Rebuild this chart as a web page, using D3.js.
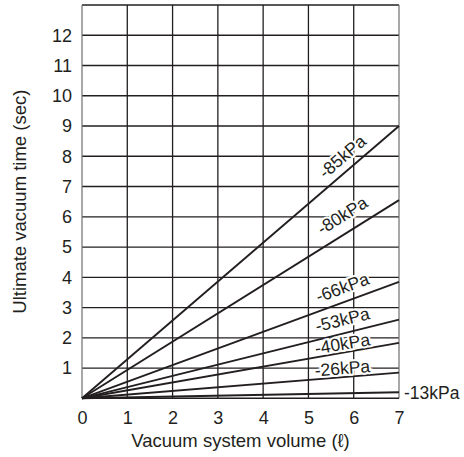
<!DOCTYPE html>
<html>
<head>
<meta charset="utf-8">
<script src="https://cdn.jsdelivr.net/npm/d3@7"></script>
<style>
  html, body { margin: 0; padding: 0; background: #fff; }
  svg { display: block; }
  text { font-family: "Liberation Sans", Arial, sans-serif; fill: #231f20; }
</style>
</head>
<body>
<script>
// ---- data ----
const xTicks = [0, 1, 2, 3, 4, 5, 6, 7];
const yTicks = [1, 2, 3, 4, 5, 6, 7, 8, 9, 10, 11, 12];
const volumes = [0, 7];
const pressureLabels = ["-85kPa", "-80kPa", "-66kPa", "-53kPa", "-40kPa", "-26kPa", "-13kPa"];
const s85 = [0, 9.0];
const s80 = [0, 6.55];
const s66 = [0, 3.85];
const s53 = [0, 2.6];
const s40 = [0, 1.83];
const s26 = [0, 0.85];
const s13 = [0, 0.2];
const seriesValues = [s85, s80, s66, s53, s40, s26, s13];
const xTitle = "Vacuum system volume (\u2113)";
const yTitle = "Ultimate vacuum time (sec)";

// ---- layout ----
const W = 464, H = 457;
const mLeft = 82, mRight = 399, mTop = 5, mBottom = 398.3;
const ink = "#231f20";

const x = d3.scaleLinear().domain([0, 7]).range([mLeft, mRight]);
const y = d3.scaleLinear().domain([0, 13]).range([mBottom, mTop]);

const svg = d3.select("body").append("svg").attr("width", W).attr("height", H);

// grid
const g = svg.append("g");
g.selectAll("line.h").data(yTicks.concat([13])).join("line").attr("class", "h")
  .attr("x1", mLeft).attr("x2", mRight)
  .attr("y1", d => y(d)).attr("y2", d => y(d))
  .attr("stroke", ink).attr("stroke-width", 1.3);
g.selectAll("line.v").data(xTicks.slice(1, 7)).join("line").attr("class", "v")
  .attr("x1", d => x(d)).attr("x2", d => x(d))
  .attr("y1", mTop).attr("y2", mBottom)
  .attr("stroke", ink).attr("stroke-width", 1.3);
// left / right borders (grey)
g.append("line").attr("x1", mLeft).attr("x2", mLeft).attr("y1", mTop).attr("y2", mBottom)
  .attr("stroke", "#6d6e71").attr("stroke-width", 1.2);
g.append("line").attr("x1", mRight).attr("x2", mRight).attr("y1", mTop).attr("y2", mBottom)
  .attr("stroke", "#6d6e71").attr("stroke-width", 1.2);
// baseline
g.append("line").attr("x1", mLeft).attr("x2", mRight).attr("y1", y(0)).attr("y2", y(0))
  .attr("stroke", ink).attr("stroke-width", 1.6);

// axes tick labels
const xAxis = d3.axisBottom(x).tickValues(xTicks).tickSize(0).tickPadding(13).tickFormat(d3.format("d"));
const xa = svg.append("g").attr("transform", `translate(0,${mBottom})`).call(xAxis);
xa.select(".domain").remove();
xa.selectAll("text").attr("font-size", 18).attr("fill", ink).style("font-family", "Liberation Sans, Arial, sans-serif");

const yAxis = d3.axisLeft(y).tickValues(yTicks).tickSize(0).tickPadding(10).tickFormat(d3.format("d"));
const ya = svg.append("g").attr("transform", `translate(${mLeft},0)`).call(yAxis);
ya.select(".domain").remove();
ya.selectAll("text").attr("font-size", 18).attr("fill", ink).style("font-family", "Liberation Sans, Arial, sans-serif");

// lines
const line = d3.line().x((d, i) => x(volumes[i])).y(d => y(d));
svg.append("g").selectAll("path").data(seriesValues).join("path")
  .attr("d", d => line(d))
  .attr("fill", "none").attr("stroke", ink).attr("stroke-width", 1.9);

// inline labels
const labelPos = 5.75;            // data x where labels sit
const labelLift = [18, 20, 15, 14, 9, 9]; // px above line
const lg = svg.append("g");
seriesValues.slice(0, 6).forEach((s, i) => {
  const vx = labelPos;
  const vy = s[1] * vx / 7;
  const px = x(vx), py = y(vy) - labelLift[i];
  const ang = Math.atan2(y(0) - y(s[1]), x(7) - x(0)) * 180 / Math.PI;
  lg.append("text")
    .attr("transform", `translate(${px},${py}) rotate(${-ang})`)
    .attr("text-anchor", "middle").attr("dominant-baseline", "central")
    .attr("font-size", 17.5)
    .attr("stroke", "#fff").attr("stroke-width", 4).attr("paint-order", "stroke")
    .text(pressureLabels[i]);
});
lg.append("text")
  .attr("x", x(7) + 5).attr("y", y(s13[1]) + 1)
  .attr("dominant-baseline", "central").attr("font-size", 17.5)
  .text(pressureLabels[6]);

// titles
svg.append("text").attr("x", (mLeft + mRight) / 2).attr("y", 447)
  .attr("text-anchor", "middle").attr("font-size", 18.5).text(xTitle);
svg.append("text").attr("transform", `translate(26,${(mTop + mBottom) / 2}) rotate(-90)`)
  .attr("text-anchor", "middle").attr("font-size", 18.5).text(yTitle);
</script>
</body>
</html>
